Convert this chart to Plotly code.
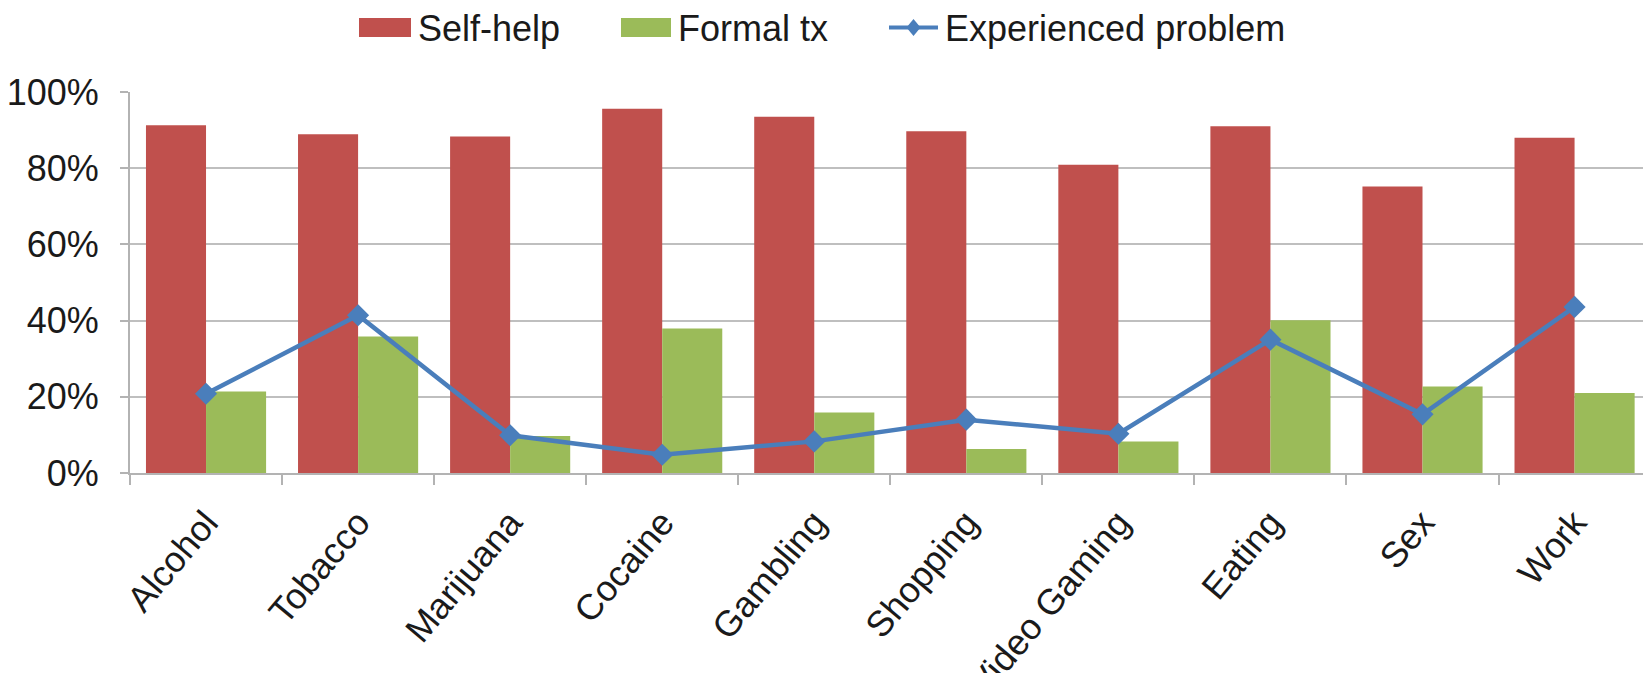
import plotly.graph_objects as go

categories = ["Alcohol", "Tobacco", "Marijuana", "Cocaine", "Gambling",
              "Shopping", "Video Gaming", "Eating", "Sex", "Work"]
self_help = [91.3, 88.9, 88.3, 95.6, 93.5, 89.7, 80.9, 91.0, 75.2, 88.0]
formal_tx = [21.4, 35.8, 9.7, 37.9, 15.9, 6.3, 8.3, 40.1, 22.7, 21.0]
experienced = [20.8, 41.4, 9.9, 4.8, 8.3, 14.0, 10.3, 35.0, 15.4, 43.6]
y_ticks = [0, 20, 40, 60, 80, 100]
y_tick_labels = ["0%", "20%", "40%", "60%", "80%", "100%"]

RED = "#C0504D"
GREEN = "#9BBB59"
BLUE = "#4A7EBB"
FONT = "Liberation Sans"
TXT = "#1a1a1a"

W, H = 1643, 673
L, T, B = 130, 92, 473  # plot area in px

fig = go.Figure()
fig.add_trace(go.Bar(x=categories, y=self_help, name="Self-help",
                     marker=dict(color=RED, line=dict(width=0)), showlegend=False))
fig.add_trace(go.Bar(x=categories, y=formal_tx, name="Formal tx",
                     marker=dict(color=GREEN, line=dict(width=0)), showlegend=False))
fig.add_trace(go.Scatter(x=categories, y=experienced, name="Experienced problem",
                         mode="lines+markers",
                         line=dict(color=BLUE, width=4.5),
                         marker=dict(symbol="diamond", size=17, color=BLUE),
                         showlegend=False))


def px_x(px):
    return (px - L) / (W - L)


def px_y(py):
    return (B - py) / (B - T)


# manual legend (wide swatches like the original)
legend_items = [
    ("rect", RED, 359, 411, 416, "Self-help"),
    ("rect", GREEN, 621, 671, 676, "Formal tx"),
    ("line", BLUE, 889, 938, 943, "Experienced problem"),
]
shapes = []
annotations = []
for kind, col, x0, x1, tx, label in legend_items:
    if kind == "rect":
        shapes.append(dict(type="rect", xref="paper", yref="paper",
                           x0=px_x(x0), x1=px_x(x1), y0=px_y(37), y1=px_y(18),
                           fillcolor=col, line=dict(width=0)))
    else:
        shapes.append(dict(type="line", xref="paper", yref="paper",
                           x0=px_x(x0), x1=px_x(x1), y0=px_y(27.5), y1=px_y(27.5),
                           line=dict(color=col, width=4)))
        cx = (x0 + x1) / 2
        shapes.append(dict(type="path", xref="paper", yref="paper",
                           path=f"M {px_x(cx-7)} {px_y(27.5)} L {px_x(cx)} {px_y(19)} "
                                f"L {px_x(cx+7)} {px_y(27.5)} L {px_x(cx)} {px_y(36)} Z",
                           fillcolor=col, line=dict(width=0)))
    annotations.append(dict(xref="paper", yref="paper", x=px_x(tx), y=px_y(28),
                            xanchor="left", yanchor="middle", text=label,
                            showarrow=False, font=dict(family=FONT, size=36, color=TXT)))

fig.update_layout(
    width=W, height=H,
    margin=dict(l=L, r=0, t=T, b=H - B, pad=0),
    paper_bgcolor="white", plot_bgcolor="white",
    barmode="group", bargap=0.21, bargroupgap=0,
    font=dict(family=FONT, size=36, color=TXT),
    shapes=shapes, annotations=annotations,
    showlegend=False,
)
fig.update_xaxes(
    type="category", range=[-0.5, 9.45],
    showgrid=False, showline=True, linecolor="#B3B3B3", linewidth=2,
    ticks="outside", tickson="boundaries", ticklen=10, tickcolor="#B3B3B3", tickwidth=1.5,
    tickangle=-50, tickfont=dict(family=FONT, size=36, color=TXT),
    automargin=False, ticklabelstandoff=12,
)
fig.update_yaxes(
    range=[0, 100], tickmode="array", tickvals=y_ticks, ticktext=y_tick_labels,
    showgrid=True, gridcolor="#BFBFBF", gridwidth=2,
    showline=True, linecolor="#B3B3B3", linewidth=2,
    ticks="outside", ticklen=8, tickcolor="#B3B3B3", tickwidth=1.5,
    tickfont=dict(family=FONT, size=36, color=TXT),
    automargin=False, zeroline=False, ticklabelstandoff=14,
)

fig.write_html("out.html")
